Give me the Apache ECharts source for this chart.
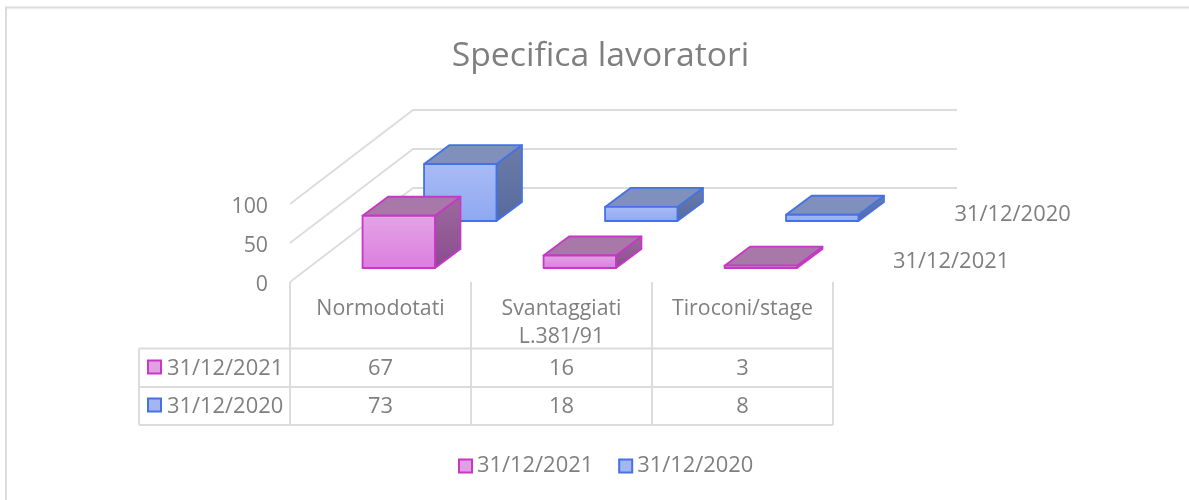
<!DOCTYPE html>
<html>
<head>
<meta charset="utf-8">
<style>html,body{margin:0;padding:0;background:#fff}#c{width:1189px;height:500px}</style>
<script src="https://cdn.jsdelivr.net/npm/echarts@6/dist/echarts.min.js"></script>
</head>
<body>
<div id="c"></div>
<script>
const titleText = 'Specifica lavoratori';
const categories = ['Normodotati', 'Svantaggiati\nL.381/91', 'Tiroconi/stage'];
const name2021 = '31/12/2021';
const name2020 = '31/12/2020';
const values2021 = [67, 16, 3];
const values2020 = [73, 18, 8];
const yTicks = [0, 50, 100];

const FONT = '"Open Sans"';
const FS = 21.3;
const FS_DATE = 21.9;
const TEXT = '#7f7f7f';
const LINE = '#dcdcdc';
const SERIES_DX = 61.5, SERIES_DY = 47;
const BAR_DX = 25.5, BAR_DY = 19;
const GAP_DX = 18.25, GAP_DY = 14;
const ROW_Y = [368.5, 406.5];
const TABLE = {left: 139, top: 348.5, mid: 387, bottom: 425};

const LG = (a, b) => new echarts.graphic.LinearGradient(0, 0, 0, 1, [{offset: 0, color: a}, {offset: 1, color: b}]);
const pink = {front: () => LG('#e4a4e6', '#da7ede'), top: '#a878a8', side: () => LG('#9a6c9c', '#8c4a90'), edge: '#c837c6', key: '#e0a0e2'};
const blue = {front: () => LG('#aabbf6', '#8ea8f0'), top: '#8090bc', side: () => LG('#6c7ca6', '#566a9e'), edge: '#4472e4', key: '#a4b6f2'};

function barSeries(name, values, depth, pal) {
  return {
    type: 'custom', name, data: values.map((v, i) => [i, v]), clip: false, z: 3 + (1 - depth),
    itemStyle: {color: pal.key, borderColor: pal.edge, borderWidth: 2},
    renderItem(params, api) {
      const cat = api.value(0), val = api.value(1);
      const w = api.size([1, 0])[0] * 0.4;
      const base = api.coord([cat, 0]), top = api.coord([cat, val]);
      const ox = GAP_DX + depth * SERIES_DX, oy = GAP_DY + depth * SERIES_DY;
      const x0 = base[0] - w / 2 + ox, x1 = x0 + w, yb = base[1] - oy, yt = top[1] - oy;
      const line = {stroke: pal.edge, lineWidth: 1.8, lineJoin: 'round'};
      const face = (pts, fill) => ({type: 'polygon', shape: {points: pts}, style: Object.assign({fill}, line)});
      return {type: 'group', children: [
        face([[x1, yb], [x1 + BAR_DX, yb - BAR_DY], [x1 + BAR_DX, yt - BAR_DY], [x1, yt]], pal.side()),
        face([[x0, yt], [x1, yt], [x1 + BAR_DX, yt - BAR_DY], [x0 + BAR_DX, yt - BAR_DY]], pal.top),
        face([[x0, yb], [x1, yb], [x1, yt], [x0, yt]], pal.front())
      ]};
    }
  };
}

const chart = echarts.init(document.getElementById('c'), null, {renderer: 'canvas'});
chart.setOption({
  animation: false,
  backgroundColor: '#fff',
  textStyle: {fontFamily: FONT},
  title: {text: titleText, left: 595.5, top: 34, textAlign: 'center',
    textStyle: {fontFamily: FONT, fontSize: 33.7, fontWeight: 'normal', color: TEXT}},
  legend: {
    left: 458, top: 455, padding: 0, itemWidth: 13, itemHeight: 13, itemGap: 25, selectedMode: false,
    textStyle: {fontFamily: FONT, fontSize: FS_DATE, color: TEXT, padding: [0, 0, 0, 0]},
    data: [
      {name: name2021, icon: 'rect', itemStyle: {color: pink.key, borderColor: pink.edge, borderWidth: 2}},
      {name: name2020, icon: 'rect', itemStyle: {color: blue.key, borderColor: blue.edge, borderWidth: 2}}
    ]
  },
  grid: {left: 290, top: 204, width: 543, height: 78, containLabel: false},
  xAxis: {
    type: 'category', data: categories,
    axisLine: {show: false}, axisTick: {show: false}, splitLine: {show: false},
    axisLabel: {interval: 0, margin: 13, fontFamily: FONT, fontSize: FS, color: TEXT, lineHeight: 28, verticalAlign: 'top'}
  },
  yAxis: {
    type: 'value', min: 0, max: 100, interval: 50,
    axisLine: {show: false}, axisTick: {show: false}, splitLine: {show: false},
    axisLabel: {margin: 22, fontFamily: FONT, fontSize: FS, color: TEXT, verticalAlign: 'top', lineHeight: 6}
  },
  graphic: [
    {type: 'polyline', z: 0, shape: {points: [[6, 500], [6, 7.5], [1189, 7.5]]}, style: {stroke: LINE, lineWidth: 2, fill: null}},
    {type: 'line', z: 1, shape: {x1: TABLE.left, y1: TABLE.top, x2: 833, y2: TABLE.top}, style: {stroke: LINE, lineWidth: 2}},
    {type: 'line', z: 1, shape: {x1: TABLE.left, y1: TABLE.mid, x2: 833, y2: TABLE.mid}, style: {stroke: LINE, lineWidth: 2}},
    {type: 'line', z: 1, shape: {x1: TABLE.left, y1: TABLE.bottom, x2: 833, y2: TABLE.bottom}, style: {stroke: LINE, lineWidth: 2}},
    {type: 'line', z: 1, shape: {x1: TABLE.left, y1: TABLE.top, x2: TABLE.left, y2: TABLE.bottom}, style: {stroke: LINE, lineWidth: 2}}
  ],
  series: [
    {
      type: 'custom', name: 'walls', data: yTicks.map(v => [0, v]), clip: false, z: 1, silent: true,
      renderItem(params, api) {
        const p = api.coord([0, api.value(1)]);
        const s = api.size([1, 0])[0];
        const x = p[0] - s / 2, y = p[1];
        const bx = x + 2 * SERIES_DX, by = y - 2 * SERIES_DY;
        return {type: 'polyline', shape: {points: [[x, y], [bx, by], [bx + 3 * s + 1, by]]},
          style: {stroke: LINE, lineWidth: 1.8, fill: null}};
      }
    },
    {
      type: 'custom', name: 'table', data: categories.map((c, i) => [i, values2021[i], values2020[i]]), clip: false, z: 2, silent: true,
      renderItem(params, api) {
        const i = api.value(0);
        const p = api.coord([i, 0]), s = api.size([1, 0])[0];
        const kids = [];
        const vline = x => ({type: 'line', shape: {x1: x, y1: p[1], x2: x, y2: TABLE.bottom}, style: {stroke: LINE, lineWidth: 2}});
        kids.push(vline(p[0] + s / 2));
        if (i === 0) kids.push(vline(p[0] - s / 2));
        [api.value(1), api.value(2)].forEach((v, r) => kids.push({type: 'text', style: {
          text: String(v), x: p[0], y: ROW_Y[r], align: 'center', verticalAlign: 'middle',
          font: FS_DATE + 'px ' + FONT, fill: TEXT}}));
        if (i === 0) {
          [[name2021, pink], [name2020, blue]].forEach(([n, pal], r) => {
            kids.push({type: 'rect', shape: {x: 148, y: ROW_Y[r] - 8, width: 13, height: 13},
              style: {fill: pal.key, stroke: pal.edge, lineWidth: 2}});
            kids.push({type: 'text', style: {text: n, x: 167, y: ROW_Y[r], align: 'left', verticalAlign: 'middle',
              font: FS_DATE + 'px ' + FONT, fill: TEXT}});
          });
          [name2021, name2020].forEach((n, d) => kids.push({type: 'text', style: {
            text: n, x: p[0] + 2.5 * s + 60 + d * SERIES_DX, y: p[1] - 20.5 - d * SERIES_DY,
            align: 'left', verticalAlign: 'middle', font: FS_DATE + 'px ' + FONT, fill: TEXT}}));
        }
        return {type: 'group', children: kids};
      }
    },
    barSeries(name2020, values2020, 1, blue),
    barSeries(name2021, values2021, 0, pink)
  ]
});
</script>
</body>
</html>
